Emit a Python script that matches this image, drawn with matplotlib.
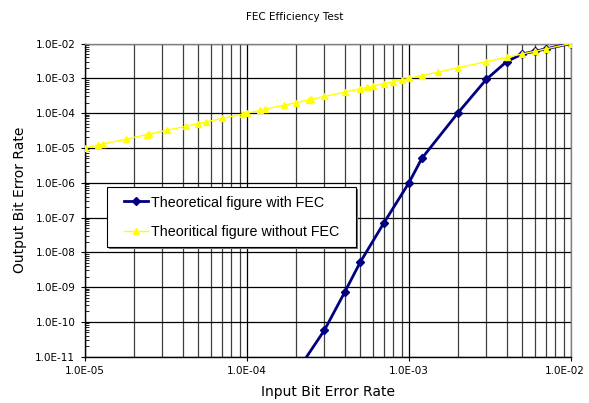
import matplotlib
matplotlib.use("Agg")
import matplotlib.pyplot as plt
import matplotlib.transforms as mtransforms
from matplotlib.patches import Rectangle
from matplotlib.ticker import LogLocator, FuncFormatter, NullFormatter

# Data
with_fec_x = [2e-4, 3e-4, 4e-4, 5e-4, 7e-4, 1e-3, 1.2e-3, 2e-3, 3e-3, 4e-3, 5e-3, 6e-3, 7e-3, 1e-2]
with_fec_y = [3.4e-12, 5.7e-11, 7e-10, 5.2e-9, 7e-8, 1e-6, 5e-6, 1e-4, 9.3e-4, 3e-3, 5e-3, 6e-3, 7e-3, 1e-2]

without_fec_x = [1e-5, 1.2e-5, 1.3e-5, 1.8e-5, 2.4e-5, 2.5e-5, 3.2e-5, 4.2e-5, 5e-5, 5.6e-5,
                 7e-5, 9.4e-5, 1e-4, 1.2e-4, 1.3e-4, 1.7e-4, 2e-4, 2.4e-4, 2.5e-4, 3e-4,
                 4e-4, 5e-4, 5.5e-4, 6e-4, 7e-4, 8e-4, 9e-4, 1e-3, 1.2e-3, 1.5e-3, 2e-3,
                 3e-3, 4e-3, 5e-3, 6e-3, 7e-3, 1e-2]
without_fec_y = list(without_fec_x)

x_limits = (1e-5, 1e-2)
y_limits = (1e-11, 1e-2)

title = "FEC Efficiency Test"
x_label = "Input Bit Error Rate"
y_label = "Output Bit Error Rate"
label_with = "Theoretical figure with FEC"
label_without = "Theoritical figure without FEC"

W, H = 589, 403
fig = plt.figure(figsize=(W/100, H/100), dpi=100)
ax = fig.add_axes([85/W, 1-356.7/H, (571-85)/W, (356.7-43.5)/H])

ax.set_xscale("log")
ax.set_yscale("log")
ax.set_xlim(*x_limits)
ax.set_ylim(*y_limits)

l1, = ax.plot(with_fec_x, with_fec_y, color="#000080", lw=2, marker="D", ms=4.5,
              mfc="#000080", mec="#000080", label=label_with, zorder=3)
l2, = ax.plot(without_fec_x, without_fec_y, color="#FFFF00", lw=1, marker="^", ms=4,
              mfc="#FFFF00", mec="#FFFF00", label=label_without, zorder=4)

ax.xaxis.set_major_locator(LogLocator(base=10, numticks=10))
ax.xaxis.set_minor_locator(LogLocator(base=10, subs=range(2, 10), numticks=100))
ax.yaxis.set_major_locator(LogLocator(base=10, numticks=20))
ax.yaxis.set_minor_locator(LogLocator(base=10, subs=range(2, 10), numticks=100))
fmt = FuncFormatter(lambda v, p: f"{v:.1E}")
ax.xaxis.set_major_formatter(fmt)
ax.yaxis.set_major_formatter(fmt)
ax.xaxis.set_minor_formatter(NullFormatter())
ax.yaxis.set_minor_formatter(NullFormatter())

ax.grid(True, which="major", axis="both", color="black", lw=0.9)
ax.grid(True, which="minor", axis="x", color="#404040", lw=0.9)
ax.set_axisbelow(True)

for s in ax.spines.values():
    s.set_color("#808080")
    s.set_linewidth(1)
ax.spines["left"].set_color("black")
ax.spines["bottom"].set_color("black")

ax.tick_params(axis="both", which="major", labelsize=7.5, length=3, direction="out", pad=4)
ax.tick_params(axis="y", which="minor", length=3, direction="in")
ax.tick_params(axis="x", which="minor", length=0)

ax.set_xlabel(x_label, fontsize=10, labelpad=6)
ax.set_ylabel(y_label, fontsize=10, labelpad=6)
fig.text(0.5, 1-17/H, title, ha="center", va="center", fontsize=7.5)

# legend box (frame + shadow) drawn in figure pixels
bx0, by0, bx1, by1 = 107, 187, 356, 247
shadow = Rectangle(((bx0 + 2) / W, 1 - (by1 + 2) / H), (bx1 - bx0) / W, (by1 - by0) / H,
                   transform=fig.transFigure, facecolor="#707070", edgecolor="none", zorder=5)
frame = Rectangle((bx0 / W, 1 - by1 / H), (bx1 - bx0) / W, (by1 - by0) / H,
                  transform=fig.transFigure, facecolor="white", edgecolor="black", lw=0.8, zorder=6)
fig.add_artist(shadow)
fig.add_artist(frame)

leg = fig.legend([l1, l2], [label_with, label_without],
                 loc="upper left", bbox_to_anchor=(124/W, 1-195.5/H), bbox_transform=fig.transFigure,
                 frameon=False, handlelength=1.7, borderpad=0, labelspacing=1.05, handletextpad=0.2,
                 borderaxespad=0, prop={"family": "Liberation Sans", "size": 10.3})
leg.set_zorder(7)

# shift last x tick label slightly left so it stays inside the figure
fig.canvas.draw()
for lab in ax.get_xticklabels():
    if lab.get_text() == "1.0E-02":
        lab.set_transform(lab.get_transform() + mtransforms.ScaledTranslation(-6/100, 0, fig.dpi_scale_trans))

fig.savefig("out.png", dpi=100)
